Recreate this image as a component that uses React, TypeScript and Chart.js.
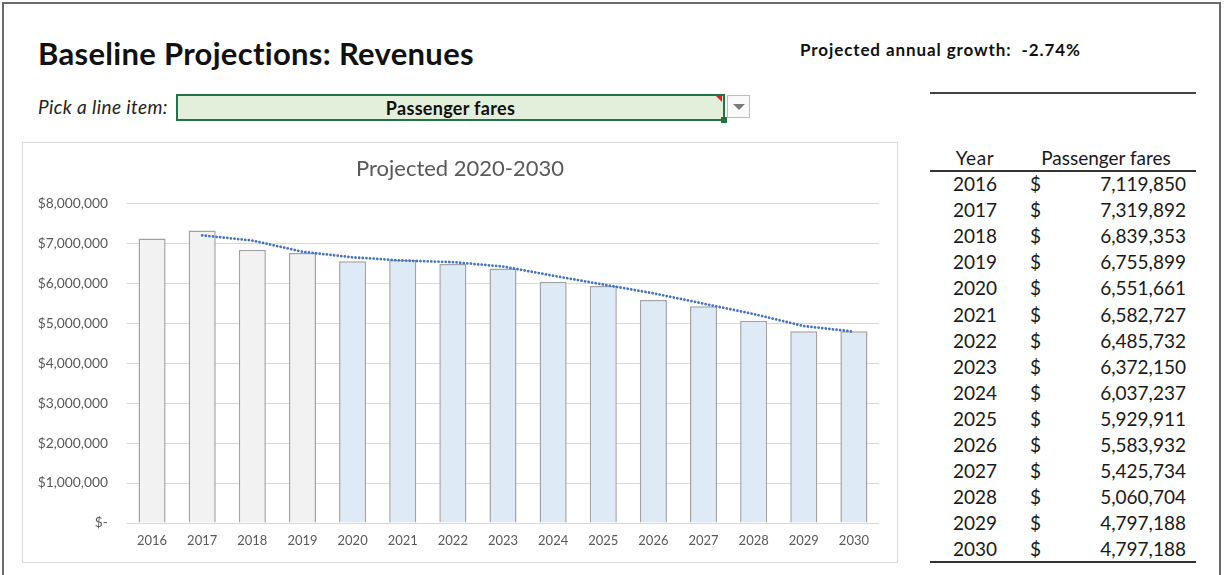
import React, { useEffect, useRef } from "react";
import { Chart, registerables } from "chart.js";

Chart.register(...registerables);

// ---- data ----
const years = ["2016", "2017", "2018", "2019", "2020", "2021", "2022", "2023", "2024", "2025", "2026", "2027", "2028", "2029", "2030"];
const passengerFares = [7119850, 7319892, 6839353, 6755899, 6551661, 6582727, 6485732, 6372150, 6037237, 5929911, 5583932, 5425734, 5060704, 4797188, 4797188];
// dotted trend line (starts at 2017)
const trendLine = [null, 7200000, 7070000, 6790000, 6650000, 6570000, 6530000, 6420000, 6190000, 5970000, 5750000, 5490000, 5230000, 4930000, 4790000];
const firstProjectedYear = "2020";
const yTickValues = [0, 1000000, 2000000, 3000000, 4000000, 5000000, 6000000, 7000000, 8000000];

const pageTitle = "Baseline Projections: Revenues";
const chartTitle = "Projected 2020-2030";
const lineItem = "Passenger fares";
const growthLabel = "Projected annual growth:  -2.74%";

const FONT = "Lato, 'Open Sans', 'DejaVu Sans', sans-serif";

function fmtTick(v: number): string {
  if (v === 0) return "$-";
  return "$" + v.toLocaleString("en-US");
}

function BarChart() {
  const ref = useRef<HTMLCanvasElement | null>(null);
  useEffect(() => {
    if (!ref.current) return;
    const projIdx = years.indexOf(firstProjectedYear);
    const fills = years.map((_, i) => (i >= projIdx ? "#deeaf6" : "#f2f2f2"));
    const chart = new Chart(ref.current, {
      type: "bar",
      data: {
        labels: years,
        datasets: [
          {
            type: "line",
            label: "Trend",
            data: trendLine as any,
            borderColor: "#4472c4",
            borderWidth: 2.8,
            borderDash: [0.01, 3.6],
            borderCapStyle: "round",
            pointRadius: 0,
            tension: 0,
            spanGaps: false,
            order: 0,
          } as any,
          {
            type: "bar",
            label: lineItem,
            data: passengerFares,
            backgroundColor: fills,
            borderColor: "#a3a3a3",
            borderWidth: { top: 1.5, left: 1.5, right: 1.5, bottom: 0 },
            barPercentage: 0.54,
            categoryPercentage: 1,
            order: 1,
          } as any,
        ],
      },
      options: {
        animation: false,
        responsive: false,
        maintainAspectRatio: false,
        layout: { padding: 0 },
        plugins: {
          legend: { display: false },
          tooltip: { enabled: false },
          title: {
            display: true,
            text: chartTitle,
            color: "#595959",
            font: { family: FONT, size: 22, weight: "normal" },
            padding: { top: 13, bottom: 21 },
          },
        },
        scales: {
          x: {
            grid: { display: false, drawTicks: false },
            border: { display: false },
            ticks: {
              color: "#595959",
              font: { family: FONT, size: 13 },
              padding: 10,
              maxRotation: 0,
            },
            afterFit: (s: any) => {
              s.height = 39;
            },
          },
          y: {
            min: 0,
            max: 8000000,
            afterBuildTicks: (s: any) => {
              s.ticks = yTickValues.map((v) => ({ value: v }));
            },
            grid: { color: "#d9d9d9", lineWidth: 1, drawTicks: false },
            border: { display: false },
            ticks: {
              color: "#595959",
              font: { family: FONT, size: 13.8 },
              padding: 19,
              callback: (v: any) => fmtTick(Number(v)),
            },
            afterFit: (s: any) => {
              s.width = 104;
            },
          },
          yRightSpace: {
            position: "right",
            display: true,
            min: 0,
            max: 8000000,
            grid: { display: false, drawTicks: false },
            border: { display: false },
            ticks: { display: false },
            afterFit: (s: any) => {
              s.width = 18;
            },
          } as any,
        },
      },
    });
    return () => chart.destroy();
  }, []);
  return <canvas ref={ref} width={874} height={419} style={{ display: "block", width: 874, height: 419 }} />;
}

const abs = (o: React.CSSProperties): React.CSSProperties => ({ position: "absolute", ...o });

export default function App() {
  const rowTop = 171;
  const rowH = 26.1;
  const tf = 19;
  return (
    <div style={abs({ left: 0, top: 0, width: 1225, height: 575, background: "#fff", fontFamily: FONT, color: "#1a1a1a", overflow: "hidden" })}>
      {/* sheet frame */}
      <div style={abs({ left: 2, top: 2, width: 1219, height: 600, border: "2px solid #6b6b6b", boxSizing: "border-box" })} />

      <div style={abs({ left: 38, top: 37, fontSize: 31, lineHeight: "32px", fontWeight: 700, letterSpacing: 0.3, whiteSpace: "nowrap", color: "#111" })}>{pageTitle}</div>

      <div style={abs({ left: 800, top: 40, fontSize: 17, lineHeight: "20px", fontWeight: 700, letterSpacing: 0.9, whiteSpace: "pre", color: "#111" })}>{growthLabel}</div>
      <div style={abs({ left: 930, top: 92, width: 266, height: 2, background: "#444" })} />

      <div style={abs({ left: 38, top: 96, fontSize: 19, lineHeight: "22px", fontStyle: "italic", letterSpacing: 0.4, whiteSpace: "nowrap", color: "#222" })}>Pick a line item:</div>

      {/* selection box */}
      <div style={abs({ left: 176, top: 94, width: 549, height: 27, boxSizing: "border-box", border: "2px solid #217346", background: "#e2efda", display: "flex", alignItems: "center", justifyContent: "center", fontSize: 18, letterSpacing: 0.3, fontWeight: 700, color: "#111" })}>
        {lineItem}
      </div>
      <div style={abs({ left: 716, top: 96, width: 0, height: 0, borderTop: "6px solid #e0201b", borderLeft: "6px solid transparent" })} />
      <div style={abs({ left: 721, top: 117, width: 6, height: 6, background: "#217346" })} />
      <div style={abs({ left: 727, top: 95, width: 23, height: 23, boxSizing: "border-box", border: "1px solid #bdbdbd", background: "#fafafa" })}>
        <div style={abs({ left: 5, top: 8, width: 0, height: 0, borderLeft: "6px solid transparent", borderRight: "6px solid transparent", borderTop: "6px solid #7a7a7a" })} />
      </div>

      {/* chart box */}
      <div style={abs({ left: 22, top: 142, width: 876, height: 421, boxSizing: "border-box", border: "1px solid #d9d9d9", background: "#fff" })}>
        <BarChart />
      </div>

      {/* table */}
      <div style={abs({ left: 930, top: 147, width: 90, textAlign: "center", fontSize: tf, letterSpacing: 0.6, lineHeight: "22px", color: "#1a1a1a" })}>Year</div>
      <div style={abs({ left: 1026, top: 147, width: 160, textAlign: "center", fontSize: tf, lineHeight: "22px", color: "#1a1a1a" })}>{lineItem}</div>
      <div style={abs({ left: 930, top: 170, width: 266, height: 2, background: "#333" })} />
      {years.map((y, i) => {
        const top = rowTop + i * rowH;
        return (
          <React.Fragment key={y}>
            <div style={abs({ left: 930, top, width: 90, height: rowH, lineHeight: `${rowH}px`, textAlign: "center", fontSize: tf })}>{y}</div>
            <div style={abs({ left: 1030, top, height: rowH, lineHeight: `${rowH}px`, fontSize: tf })}>$</div>
            <div style={abs({ left: 1080, top, width: 106, height: rowH, lineHeight: `${rowH}px`, textAlign: "right", fontSize: tf })}>{passengerFares[i].toLocaleString("en-US")}</div>
          </React.Fragment>
        );
      })}
      <div style={abs({ left: 930, top: 561, width: 266, height: 2, background: "#333" })} />
    </div>
  );
}
